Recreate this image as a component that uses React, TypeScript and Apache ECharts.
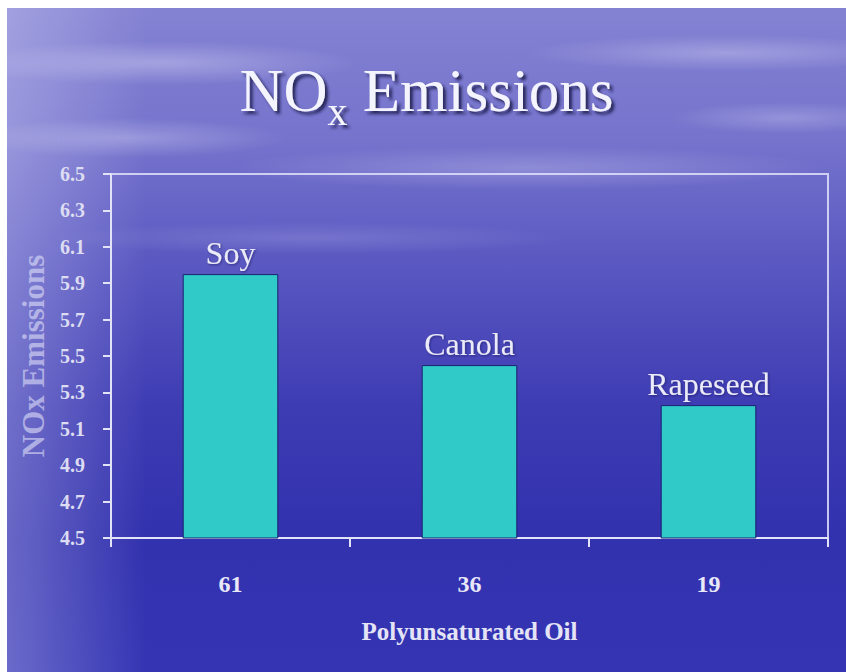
import React, { useEffect, useRef } from "react";
import * as echarts from "echarts";

const categories = ["61", "36", "19"];
const oilNames = ["Soy", "Canola", "Rapeseed"];
const noxValues = [5.95, 5.45, 5.23];
const yMin = 4.5;
const yMax = 6.5;
const yStep = 0.2;

const SERIF = "'Liberation Serif', 'Times New Roman', 'DejaVu Serif', serif";

export default function App() {
  const ref = useRef<HTMLDivElement>(null);
  useEffect(() => {
    if (!ref.current) return;
    const chart = echarts.init(ref.current, undefined, { renderer: "svg" });
    const soft = (cx: number, cy: number, rx: number, ry: number, a: number) => ({
      type: "ellipse",
      silent: true,
      z: -10,
      shape: { cx, cy, rx, ry },
      style: {
        fill: {
          type: "radial",
          x: 0.5,
          y: 0.5,
          r: 0.5,
          colorStops: [
            { offset: 0, color: `rgba(235,235,255,${a})` },
            { offset: 1, color: "rgba(235,235,255,0)" },
          ],
        },
      },
    });
    const titleToken = {
      fontFamily: SERIF,
      fontWeight: "normal",
      lineHeight: 70,
      verticalAlign: "middle",
      color: "#f4f4ff",
      textShadowColor: "rgba(20,20,70,0.85)",
      textShadowOffsetX: 3,
      textShadowOffsetY: 3,
      textShadowBlur: 3,
    };
    chart.setOption({
      animation: false,
      backgroundColor: {
        type: "linear",
        x: 0,
        y: 0,
        x2: 0,
        y2: 1,
        colorStops: [
          { offset: 0, color: "#8482d2" },
          { offset: 0.2, color: "#7573cc" },
          { offset: 0.4, color: "#5856c0" },
          { offset: 0.6, color: "#3e3cb3" },
          { offset: 0.8, color: "#3231ae" },
          { offset: 1, color: "#3535b4" },
        ],
      },
      graphic: [
        {
          type: "rect",
          silent: true,
          z: -10,
          shape: { x: 0, y: 0, width: 140, height: 664 },
          style: {
            fill: {
              type: "linear",
              x: 0,
              y: 0,
              x2: 1,
              y2: 0,
              colorStops: [
                { offset: 0, color: "rgba(230,230,255,0.3)" },
                { offset: 1, color: "rgba(230,230,255,0)" },
              ],
            },
          },
        },
        soft(150, 55, 200, 22, 0.35),
        soft(720, 45, 200, 18, 0.3),
        soft(120, 130, 160, 20, 0.3),
        soft(520, 160, 300, 22, 0.25),
        soft(780, 110, 120, 16, 0.25),
        soft(300, 230, 260, 16, 0.15),
      ],
      title: {
        text: "{a|NO}{s|x}{a| Emissions}",
        left: "center",
        top: 47,
        padding: 0,
        textStyle: {
          fontWeight: "normal",
          rich: {
            a: { ...titleToken, fontSize: 61 },
            s: { ...titleToken, fontSize: 40, padding: [42, 0, 0, 0] },
          },
        },
      },
      grid: {
        left: 104,
        right: 18,
        top: 166,
        bottom: 134,
        show: true,
        borderColor: "rgba(225,225,250,0.85)",
        borderWidth: 2,
        backgroundColor: "transparent",
      },
      xAxis: {
        type: "category",
        data: categories,
        name: "Polyunsaturated Oil",
        nameLocation: "middle",
        nameGap: 81,
        nameTextStyle: {
          fontFamily: SERIF,
          fontSize: 25,
          fontWeight: "bold",
          color: "#e4e4f6",
        },
        axisLine: { lineStyle: { color: "#e2e2f8", width: 2 } },
        axisTick: {
          show: true,
          inside: false,
          length: 9,
          alignWithLabel: false,
          lineStyle: { color: "#e2e2f8", width: 2 },
        },
        axisLabel: {
          margin: 34,
          fontFamily: SERIF,
          fontSize: 24,
          fontWeight: "bold",
          color: "#e8e8f8",
        },
        splitLine: { show: false },
      },
      yAxis: {
        type: "value",
        min: yMin,
        max: yMax,
        interval: yStep,
        name: "NOx Emissions",
        nameLocation: "middle",
        nameRotate: 90,
        nameGap: 52,
        nameTextStyle: {
          fontFamily: SERIF,
          fontSize: 31,
          fontWeight: "bold",
          color: "rgba(225,225,250,0.6)",
        },
        axisLine: { show: true, lineStyle: { color: "#e2e2f8", width: 2 } },
        axisTick: {
          show: true,
          inside: false,
          length: 8,
          lineStyle: { color: "#e2e2f8", width: 2 },
        },
        axisLabel: {
          margin: 26,
          fontFamily: SERIF,
          fontSize: 20,
          fontWeight: "bold",
          color: "#dcdcf2",
          formatter: (v: number) => v.toFixed(1),
        },
        splitLine: { show: false },
      },
      series: [
        {
          type: "bar",
          data: noxValues,
          barWidth: "40%",
          itemStyle: {
            color: "#30cbc8",
            borderColor: "#1b2070",
            borderWidth: 1,
          },
          label: {
            show: true,
            position: "top",
            distance: 5,
            fontFamily: SERIF,
            fontSize: 32,
            color: "#eaeaf8",
            textShadowColor: "rgba(20,20,70,0.5)",
            textShadowBlur: 2,
            textShadowOffsetX: 1,
            textShadowOffsetY: 1,
            formatter: (p: any) => oilNames[p.dataIndex],
          },
        },
      ],
    });
    return () => chart.dispose();
  }, []);
  return (
    <div
      ref={ref}
      style={{ position: "absolute", left: 7, top: 8, width: 839, height: 664 }}
    />
  );
}
